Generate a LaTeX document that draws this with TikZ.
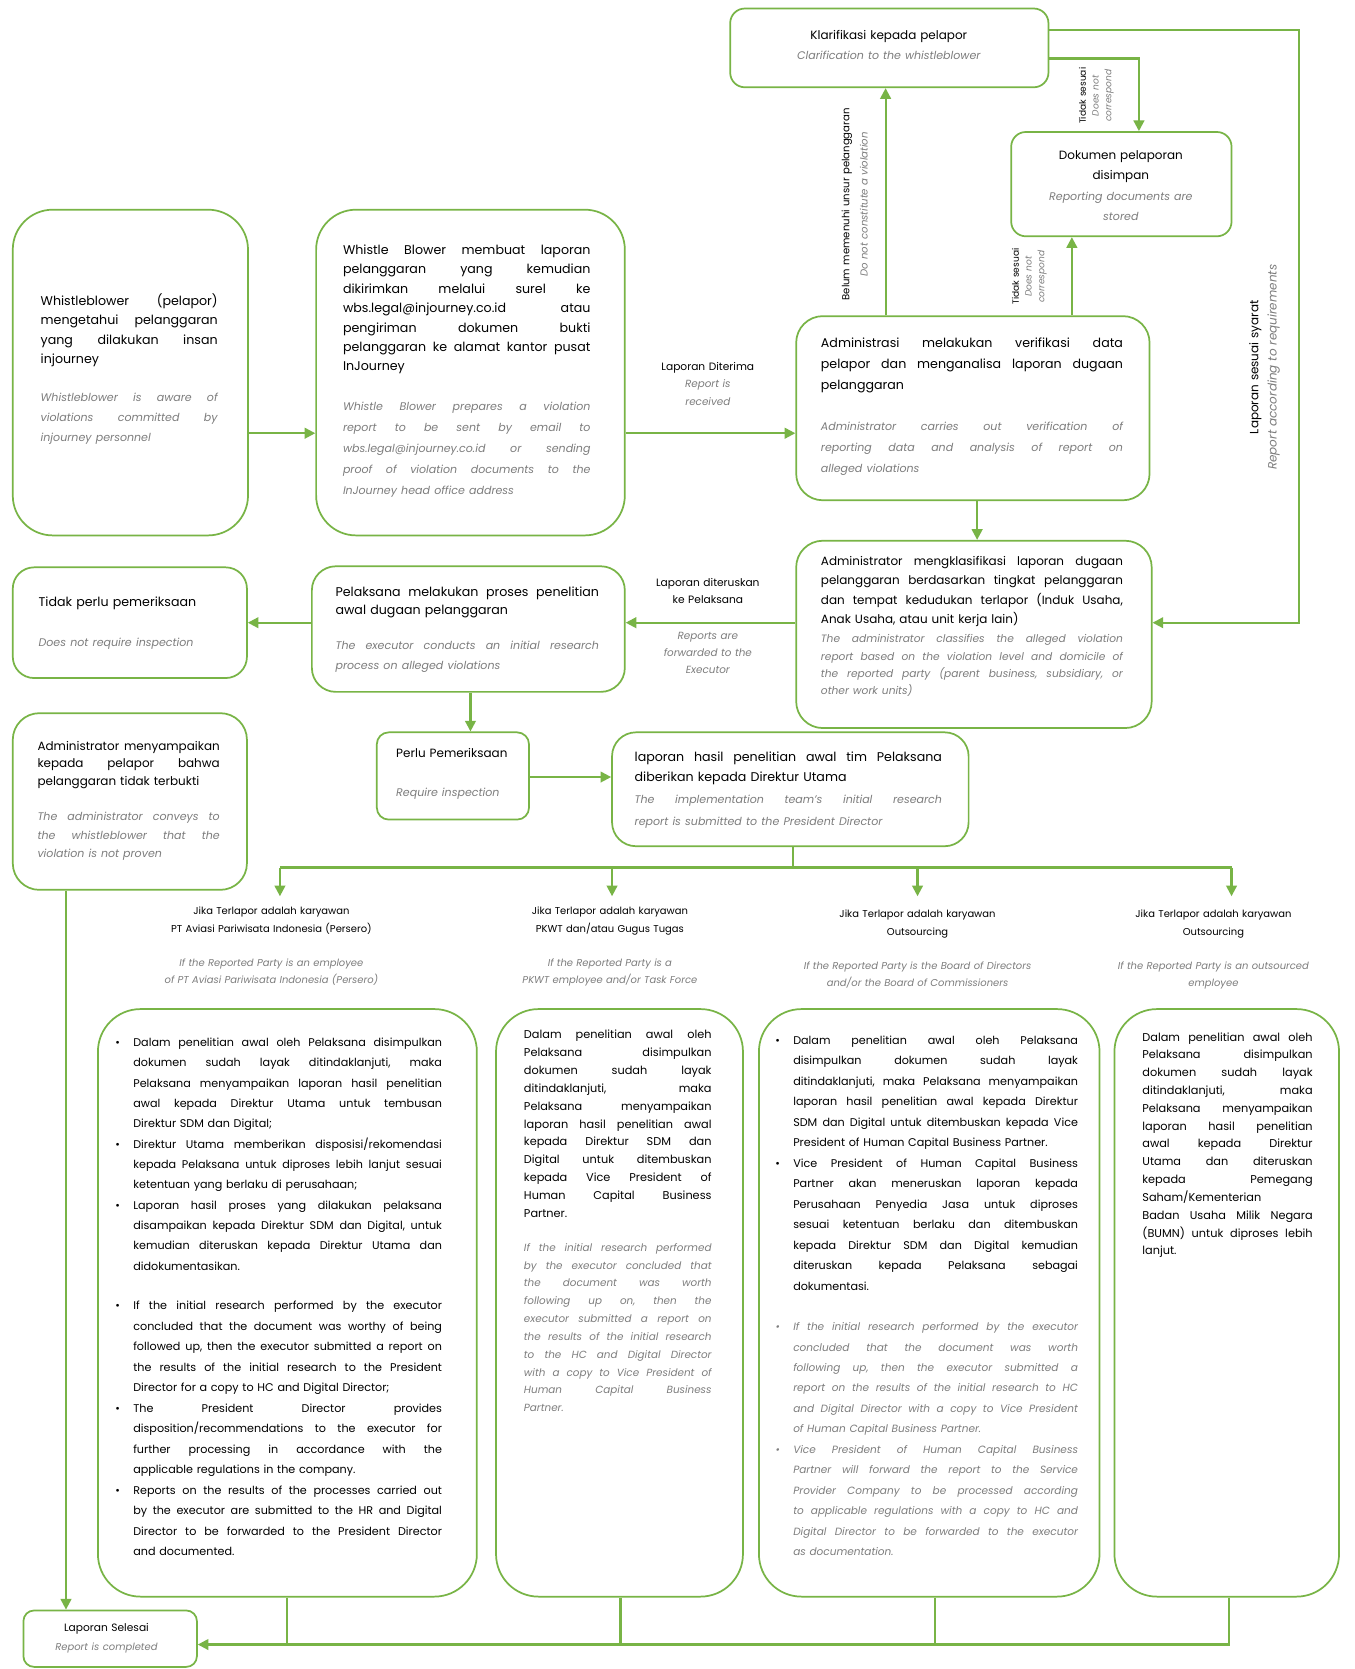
\documentclass[tikz,border=0pt]{standalone}
\usepackage{fontspec}
\setmainfont{Poppins}
\usetikzlibrary{arrows.meta,fit}
\definecolor{gr}{RGB}{120,180,70}
\definecolor{tg}{RGB}{125,125,125}
\newcommand\jline[1]{\hbox to\hsize{\spaceskip=\fontdimen2\font plus 1fil\relax#1}\par}
\newcommand\lline[1]{\hbox to\hsize{#1\hfil}\par}
\newcommand\cenl[1]{\hbox to\hsize{\hfil#1\hfil}\par}
\newcommand\bjl[1]{\hbox to\hsize{\spaceskip=\fontdimen2\font plus 1fil\relax\llap{\textbullet\hskip10pt}#1}\par}
\newcommand\fsz[2]{\fontsize{#1}{#2}\selectfont}
\newcommand\engl{\color{tg}\itshape}
\tikzset{
  box/.style={draw=gr, line width=1.3pt, rounded corners=#1, inner sep=0pt, fill=white},
  box/.default=18pt,
  arr/.style={draw=gr, line width=1.6pt, -{Triangle[length=8pt,width=8pt]}},
  ln/.style={draw=gr, line width=1.6pt},
  tx/.style={inner sep=0pt, anchor=base west, text width=#1},
  ctx/.style={inner sep=0pt, anchor=base, text width=#1},
  rtx/.style={inner sep=0pt, anchor=center, rotate=90, text width=#1},
}
\begin{document}
\frenchspacing
\begin{tikzpicture}[x=0.8pt,y=-0.8pt]
\fill[white] (0,0) rectangle (1273,1568);
\useasboundingbox (0,0) rectangle (1273,1568);

% ---------- boxes ----------
\node[box=11pt, fit={(686,8) (985,82)}] (kla) {};
\node[box=11pt, fit={(950,124) (1157,222)}] (dok) {};
\node[box=20pt, fit={(748,297) (1080,470)}] (ver) {};
\node[box=30pt, fit={(12,197) (233,503)}] (b1) {};
\node[box=30pt, fit={(297,197) (587,503)}] (b2) {};
\node[box=20pt, fit={(748,508) (1082,684)}] (cls) {};
\node[box=18pt, fit={(293,532) (587,650)}] (pel) {};
\node[box=16pt, fit={(12,533) (232,637)}] (tid) {};
\node[box=20pt, fit={(12,670) (232,836)}] (adm) {};
\node[box=9pt, fit={(354,688) (497,770)}] (per) {};
\node[box=18pt, fit={(575,688) (910,795)}] (lap) {};
\node[box=32pt, fit={(92,948) (448,1500)}] (c1) {};
\node[box=32pt, fit={(466,948) (698,1500)}] (c2) {};
\node[box=32pt, fit={(713,948) (1033,1500)}] (c3) {};
\node[box=32pt, fit={(1047,948) (1258,1500)}] (c4) {};
\node[box=8pt, fit={(22,1513) (185,1566)}] (sel) {};

% ---------- texts ----------
\node[ctx=240pt, font=\fsz{9}{15.2}] (tkla) at (835,37) {\cenl{Klarifikasi kepada pelapor}\engl\fsz{8.3}{15.2}\cenl{Clarification to the whistleblower}};

\node[ctx=165pt, font=\fsz{9}{15.2}] (tdok) at (1053,150) {\cenl{Dokumen pelaporan}\cenl{disimpan}\engl\fsz{8.3}{15.2}\cenl{Reporting documents are}\cenl{stored}};

\node[tx=133pt, font=\fsz{9.5}{14.6}] (tb1) at (38,287) {%
\jline{Whistleblower (pelapor)}\jline{mengetahui pelanggaran}\jline{yang dilakukan insan}\lline{injourney}%
\vskip13pt\engl\fsz{8.3}{15.2}%
\jline{Whistleblower is aware of}\jline{violations committed by}\lline{injourney personnel}};

\node[tx=186pt, font=\fsz{9.5}{14.6}] (tb2) at (322,239) {%
\jline{Whistle Blower membuat laporan}\jline{pelanggaran yang kemudian}\jline{dikirimkan melalui surel ke}\jline{wbs.legal@injourney.co.id atau}\jline{pengiriman dokumen bukti}\jline{pelanggaran ke alamat kantor pusat}\lline{InJourney}%
\vskip13.8pt\engl\fsz{8.3}{15.8}%
\jline{Whistle Blower prepares a violation}\jline{report to be sent by email to}\jline{wbs.legal@injourney.co.id or sending}\jline{proof of violation documents to the}\lline{InJourney head office address}};

\node[tx=227pt, font=\fsz{9.5}{16}] (tver) at (771,326) {%
\jline{Administrasi melakukan verifikasi data}\jline{pelapor dan menganalisa laporan dugaan}\lline{pelanggaran}%
\vskip14.4pt\engl\fsz{8.3}{16}%
\jline{Administrator carries out verification of}\jline{reporting data and analysis of report on}\lline{alleged violations}};

\node[tx=227pt, font=\fsz{9}{14.6}] (tcls) at (771,531) {%
\jline{Administrator mengklasifikasi laporan dugaan}\jline{pelanggaran berdasarkan tingkat pelanggaran}\jline{dan tempat kedudukan terlapor (Induk Usaha,}\lline{Anak Usaha, atau unit kerja lain)}%
\vskip1.3pt\engl\fsz{8}{13.1}%
\jline{The administrator classifies the alleged violation}\jline{report based on the violation level and domicile of}\jline{the reported party (parent business, subsidiary, or}\lline{other work units)}};

\node[tx=198pt, font=\fsz{9.5}{13.6}] (tpel) at (315,560) {%
\jline{Pelaksana melakukan proses penelitian}\lline{awal dugaan pelanggaran}%
\vskip11.2pt\engl\fsz{8.3}{15.2}%
\jline{The executor conducts an initial research}\lline{process on alleged violations}};

\node[tx=150pt, font=\fsz{9.5}{15.2}] (ttid) at (36,570) {%
\lline{Tidak perlu pemeriksaan}\vskip14.4pt\engl\fsz{8.3}{15.2}\lline{Does not require inspection}};

\node[tx=137pt, font=\fsz{9}{13.2}] (tadm) at (35,705) {%
\jline{Administrator menyampaikan}\jline{kepada pelapor bahwa}\lline{pelanggaran tidak terbukti}%
\vskip12.4pt\engl\fsz{8.3}{14}%
\jline{The administrator conveys to}\jline{the whistleblower that the}\lline{violation is not proven}};

\node[tx=100pt, font=\fsz{9}{15.2}] (tper) at (372,712) {%
\lline{Perlu Pemeriksaan}\vskip13.6pt\engl\fsz{8.3}{15.2}\lline{Require inspection}};

\node[tx=231pt, font=\fsz{9.5}{15.2}] (tlap) at (596,715) {%
\jline{laporan hasil penelitian awal tim Pelaksana}\lline{diberikan kepada Direktur Utama}%
\engl\fsz{8.3}{16.8}%
\jline{The implementation team's initial research}\lline{report is submitted to the President Director}};

\node[ctx=130pt, font=\fsz{8}{14.4}] (tsel) at (100,1533) {\cenl{Laporan Selesai}\engl\fsz{7.5}{14.4}\cenl{Report is completed}};

% edge labels
\node[ctx=110pt, font=\fsz{8}{13.6}] (l1) at (665,348) {\cenl{Laporan Diterima}\engl\fsz{7.8}{13.2}\cenl{Report is}\cenl{received}};
\node[ctx=110pt, font=\fsz{8}{12.8}] (l2) at (665,551) {\cenl{Laporan diteruskan}\cenl{ke Pelaksana}\vskip14.4pt\engl\fsz{7.8}{12.8}\cenl{Reports are}\cenl{forwarded to the}\cenl{Executor}};

\node[rtx=200pt, font=\fsz{7.6}{13.6}] (r1) at (803,192) {\cenl{Belum memenuhi unsur pelanggaran}\engl\cenl{Do not constitute a violation}};
\node[rtx=80pt, font=\fsz{6.8}{9.6}] (r2) at (1030,90) {\cenl{Tidak sesuai}\engl\cenl{Does not}\cenl{correspond}};
\node[rtx=80pt, font=\fsz{6.8}{9.6}] (r3) at (967,260) {\cenl{Tidak sesuai}\engl\cenl{Does not}\cenl{correspond}};
\node[rtx=230pt, font=\fsz{9}{13.6}] (r4) at (1188,345) {\cenl{Laporan sesuai syarat}\engl\cenl{Report according to requirements}};

% headings
\node[ctx=240pt, font=\fsz{7.5}{13.6}] (h1) at (255,859) {\cenl{Jika Terlapor adalah karyawan}\cenl{PT Aviasi Pariwisata Indonesia (Persero)}\vskip12.8pt\engl\fsz{7.5}{12.8}\cenl{If the Reported Party is an employee}\cenl{of PT Aviasi Pariwisata Indonesia (Persero)}};
\node[ctx=220pt, font=\fsz{7.5}{13.6}] (h2) at (573,859) {\cenl{Jika Terlapor adalah karyawan}\cenl{PKWT dan/atau Gugus Tugas}\vskip12.8pt\engl\fsz{7.5}{12.8}\cenl{If the Reported Party is a}\cenl{PKWT employee and/or Task Force}};
\node[ctx=240pt, font=\fsz{7.5}{13.6}] (h3) at (862,862) {\cenl{Jika Terlapor adalah karyawan}\cenl{Outsourcing}\vskip12.8pt\engl\fsz{7.5}{12.8}\cenl{If the Reported Party is the Board of Directors}\cenl{and/or the Board of Commissioners}};
\node[ctx=220pt, font=\fsz{7.5}{13.6}] (h4) at (1140,862) {\cenl{Jika Terlapor adalah karyawan}\cenl{Outsourcing}\vskip12.8pt\engl\fsz{7.5}{12.8}\cenl{If the Reported Party is an outsourced}\cenl{employee}};

% bottom boxes
\node[tx=232pt, font=\fsz{8.4}{15.3}] (tc1) at (125,983) {%
\bjl{Dalam penelitian awal oleh Pelaksana disimpulkan}\jline{dokumen sudah layak ditindaklanjuti, maka}\jline{Pelaksana menyampaikan laporan hasil penelitian}\jline{awal kepada Direktur Utama untuk tembusan}\lline{Direktur SDM dan Digital;}%
\bjl{Direktur Utama memberikan disposisi/rekomendasi}\jline{kepada Pelaksana untuk diproses lebih lanjut sesuai}\lline{ketentuan yang berlaku di perusahaan;}%
\bjl{Laporan hasil proses yang dilakukan pelaksana}\jline{disampaikan kepada Direktur SDM dan Digital, untuk}\jline{kemudian diteruskan kepada Direktur Utama dan}\lline{didokumentasikan.}%
\vskip14.3pt\fsz{8.4}{15.4}%
\bjl{If the initial research performed by the executor}\jline{concluded that the document was worthy of being}\jline{followed up, then the executor submitted a report on}\jline{the results of the initial research to the President}\lline{Director for a copy to HC and Digital Director;}%
\bjl{The President Director provides}\jline{disposition/recommendations to the executor for}\jline{further processing in accordance with the}\lline{applicable regulations in the company.}%
\bjl{Reports on the results of the processes carried out}\jline{by the executor are submitted to the HR and Digital}\jline{Director to be forwarded to the President Director}\lline{and documented.}};

\node[tx=141pt, font=\fsz{8.5}{13.4}] (tc2) at (492,976) {%
\jline{Dalam penelitian awal oleh}\jline{Pelaksana disimpulkan}\jline{dokumen sudah layak}\jline{ditindaklanjuti, maka}\jline{Pelaksana menyampaikan}\jline{laporan hasil penelitian awal}\jline{kepada Direktur SDM dan}\jline{Digital untuk ditembuskan}\jline{kepada Vice President of}\jline{Human Capital Business}\lline{Partner.}%
\vskip12.2pt\engl\fsz{7.8}{13.4}%
\jline{If the initial research performed}\jline{by the executor concluded that}\jline{the document was worth}\jline{following up on, then the}\jline{executor submitted a report on}\jline{the results of the initial research}\jline{to the HC and Digital Director}\jline{with a copy to Vice President of}\jline{Human Capital Business}\lline{Partner.}};

\node[tx=214pt, font=\fsz{8.4}{15.4}] (tc3) at (745,981) {%
\bjl{Dalam penelitian awal oleh Pelaksana}\jline{disimpulkan dokumen sudah layak}\jline{ditindaklanjuti, maka Pelaksana menyampaikan}\jline{laporan hasil penelitian awal kepada Direktur}\jline{SDM dan Digital untuk ditembuskan kepada Vice}\lline{President of Human Capital Business Partner.}%
\bjl{Vice President of Human Capital Business}\jline{Partner akan meneruskan laporan kepada}\jline{Perusahaan Penyedia Jasa untuk diproses}\jline{sesuai ketentuan berlaku dan ditembuskan}\jline{kepada Direktur SDM dan Digital kemudian}\jline{diteruskan kepada Pelaksana sebagai}\lline{dokumentasi.}%
\vskip15pt\engl\fsz{7.9}{15.4}%
\bjl{If the initial research performed by the executor}\jline{concluded that the document was worth}\jline{following up, then the executor submitted a}\jline{report on the results of the initial research to HC}\jline{and Digital Director with a copy to Vice President}\lline{of Human Capital Business Partner.}%
\bjl{Vice President of Human Capital Business}\jline{Partner will forward the report to the Service}\jline{Provider Company to be processed according}\jline{to applicable regulations with a copy to HC and}\jline{Digital Director to be forwarded to the executor}\lline{as documentation.}};

\node[tx=128pt, font=\fsz{8.5}{13.4}] (tc4) at (1073,978) {%
\jline{Dalam penelitian awal oleh}\jline{Pelaksana disimpulkan}\jline{dokumen sudah layak}\jline{ditindaklanjuti, maka}\jline{Pelaksana menyampaikan}\jline{laporan hasil penelitian}\jline{awal kepada Direktur}\jline{Utama dan diteruskan}\jline{kepada Pemegang}\lline{Saham/Kementerian}\jline{Badan Usaha Milik Negara}\jline{(BUMN) untuk diproses lebih}\lline{lanjut.}};

% ---------- connectors ----------
\coordinate (yA) at (0,407);
\draw[arr] (b1.east |- yA) -- (b2.west |- yA);
\draw[arr] (b2.east |- yA) -- (ver.west |- yA);
\coordinate (xK) at (832,0);
\draw[arr] (ver.north -| xK) -- (kla.south -| xK);
\coordinate (xD) at (1007,0);
\draw[arr] (ver.north -| xD) -- (dok.south -| xD);
\coordinate (k1) at (1070,55);
\draw[arr] (kla.east |- k1) -- (k1) -- (dok.north -| k1);
\coordinate (k2) at (1220,28);
\coordinate (k3) at (1220,585);
\draw[arr] (kla.east |- k2) -- (k2) -- (k3) -- (cls.east |- k3);
\coordinate (xV) at (918,0);
\draw[arr] (ver.south -| xV) -- (cls.north -| xV);
\coordinate (yB) at (0,585);
\draw[arr] (cls.west |- yB) -- (pel.east |- yB);
\draw[arr] (pel.west |- yB) -- (tid.east |- yB);
\coordinate (xP) at (442,0);
\draw[arr] (pel.south -| xP) -- (per.north -| xP);
\coordinate (yC) at (0,730);
\draw[arr] (per.east |- yC) -- (lap.west |- yC);
\coordinate (bar) at (745,815);
\coordinate (t1) at (263,842);
\coordinate (t2) at (575,842);
\coordinate (t3) at (862,842);
\coordinate (t4) at (1157,842);
\draw[ln] (lap.south -| bar) -- (bar);
\draw[ln] (t1 |- bar) -- (t4 |- bar);
\foreach \t in {t1,t2,t3,t4} \draw[arr] (\t |- bar) -- (\t);
\coordinate (xA) at (62,0);
\draw[arr] (adm.south -| xA) -- (sel.north -| xA);
\coordinate (yE) at (0,1545);
\coordinate (u1) at (270,0);
\coordinate (u2) at (583,0);
\coordinate (u3) at (878,0);
\coordinate (u4) at (1155,0);
\draw[ln] (c1.south -| u1) -- (u1 |- yE);
\draw[ln] (c2.south -| u2) -- (u2 |- yE);
\draw[ln] (c3.south -| u3) -- (u3 |- yE);
\draw[arr] (c4.south -| u4) -- (u4 |- yE) -- (sel.east |- yE);
\end{tikzpicture}
\end{document}
